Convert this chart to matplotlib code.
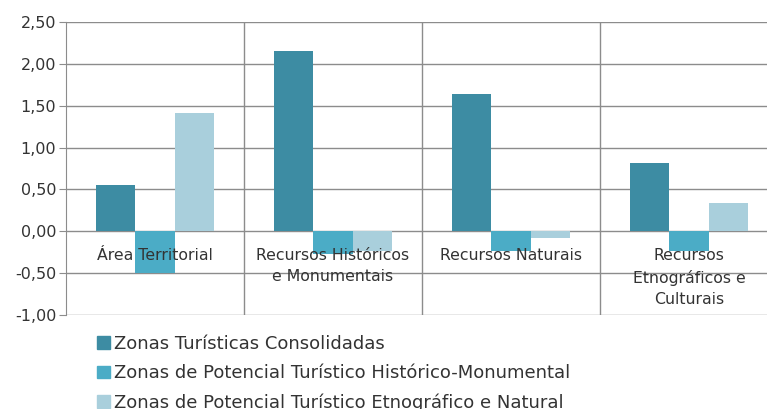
import matplotlib
matplotlib.use("Agg")
import matplotlib.pyplot as plt
from matplotlib.patches import Patch
from matplotlib.ticker import FuncFormatter

# ── data ──────────────────────────────────────────────────────────────────────
categories = ["Área Territorial", "Recursos Históricos\ne Monumentais",
              "Recursos Naturais", "Recursos\nEtnográficos e\nCulturais"]
series_names = ["Zonas Turísticas Consolidadas",
                "Zonas de Potencial Turístico Histórico-Monumental",
                "Zonas de Potencial Turístico Etnográfico e Natural"]
consolidadas = [0.55, 2.15, 1.64, 0.81]
historico    = [-0.50, -0.27, -0.24, -0.24]
etnografico  = [1.41, -0.24, -0.08, 0.34]
yticks = [-1.0, -0.5, 0.0, 0.5, 1.0, 1.5, 2.0, 2.5]

colors = ["#3D8CA3", "#4BACC6", "#A9CFDC"]
grid_c = "#8c8c8c"
text_c = "#333333"

fig = plt.figure(figsize=(7.67, 4.09), dpi=100)
ax = fig.add_axes([66 / 767, 94 / 409, 712 / 767, 293 / 409])

w = 0.222
x = range(len(categories))
for k, vals in enumerate([consolidadas, historico, etnografico]):
    ax.bar([i + (k - 1) * w for i in x], vals, width=w, color=colors[k],
           zorder=3, label=series_names[k])

ax.set_xlim(-0.5, 3.5)
ax.set_ylim(-1.0, 2.5)
ax.set_yticks(yticks)
ax.yaxis.set_major_formatter(FuncFormatter(lambda v, p: f"{v:.2f}".replace(".", ",")))
ax.tick_params(axis="y", labelsize=11.5, colors=text_c, length=5, color=grid_c, pad=2)
ax.set_xticks([])
ax.grid(axis="y", color=grid_c, linewidth=1, zorder=0)
for b in [0.5, 1.5, 2.5]:
    ax.axvline(b, color=grid_c, linewidth=1, zorder=0)
for s in ["top", "right", "bottom"]:
    ax.spines[s].set_visible(False)
ax.spines["left"].set_color(grid_c)

# category labels sit just under the zero line
for i, c in enumerate(categories):
    ax.text(i, -0.2, c, ha="center", va="top", fontsize=11.3, color=text_c,
            linespacing=1.5, zorder=5)

handles = [Patch(color=colors[k]) for k in range(3)]
fig.legend(handles, series_names, loc="upper left",
           bbox_to_anchor=(97 / 767, 1 - 335 / 409),
           frameon=False, fontsize=13, handlelength=0.7, handleheight=0.7,
           handletextpad=0.25, labelspacing=0.62, labelcolor=text_c,
           borderpad=0, borderaxespad=0)

plt.savefig("out.png", dpi=100)
